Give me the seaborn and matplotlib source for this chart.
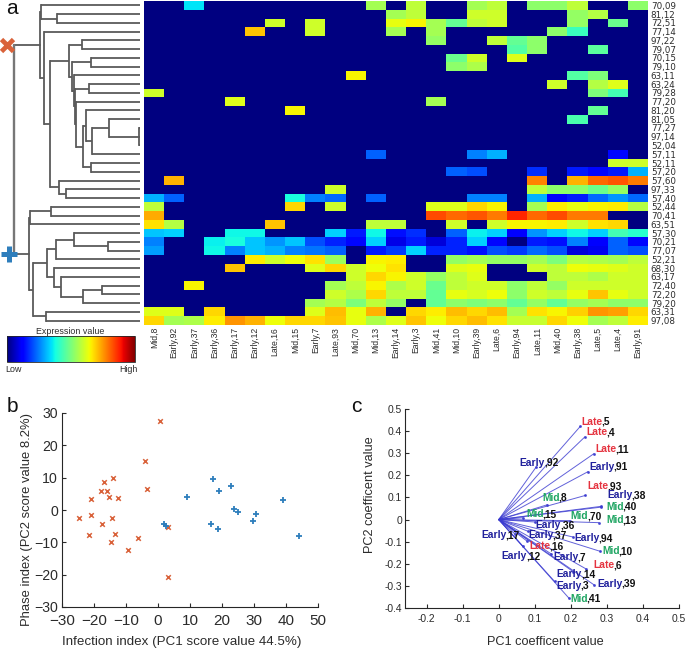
import matplotlib
matplotlib.use("Agg")
import matplotlib.pyplot as plt
import numpy as np
import seaborn as sb
from matplotlib.cm import ScalarMappable
from matplotlib.colors import Normalize

W, H = 685, 649
ORANGE = "#D9623A"
BLUE = "#2E7EBC"
TEXT = "#2b2b2b"

columns = ["Mid,8", "Early,92", "Early,37", "Early,36", "Early,17", "Early,12", "Late,16",
           "Mid,15", "Early,7", "Late,93", "Mid,70", "Mid,13", "Early,14", "Early,3", "Mid,41",
           "Mid,10", "Early,39", "Late,6", "Early,94", "Late,11", "Mid,40", "Early,38",
           "Late,5", "Late,4", "Early,91"]
rows = ["70,09", "81,12", "72,51", "77,14", "97,22", "79,07", "70,15", "79,10", "63,11", "63,24",
        "79,28", "77,20", "81,20", "81,05", "77,27", "97,14", "52,04", "57,11", "52,11", "57,20",
        "57,60", "97,33", "57,40", "52,44", "70,41", "63,51", "57,30", "70,21", "77,07", "52,21",
        "68,30", "63,17", "72,40", "72,20", "79,20", "63,31", "97,08"]

# expression in percent of the colour scale
expression = [
    [0, 0, 35, 0, 0, 0, 0, 0, 0, 0, 0, 55, 0, 58, 0, 0, 55, 58, 0, 52, 52, 58, 0, 0, 52],
    [0, 0, 0, 0, 0, 0, 0, 0, 0, 0, 0, 0, 55, 58, 0, 0, 60, 60, 0, 0, 0, 53, 57, 0, 0],
    [0, 0, 0, 0, 0, 0, 60, 0, 60, 0, 0, 0, 63, 65, 55, 47, 58, 60, 0, 0, 0, 53, 0, 48, 0],
    [0, 0, 0, 0, 0, 70, 0, 0, 60, 0, 0, 0, 55, 0, 55, 0, 0, 0, 0, 0, 52, 42, 0, 0, 0],
    [0, 0, 0, 0, 0, 0, 0, 0, 0, 0, 0, 0, 0, 0, 53, 0, 0, 58, 47, 52, 0, 0, 0, 0, 0],
    [0, 0, 0, 0, 0, 0, 0, 0, 0, 0, 0, 0, 0, 0, 0, 0, 0, 0, 45, 52, 0, 0, 46, 0, 0],
    [0, 0, 0, 0, 0, 0, 0, 0, 0, 0, 0, 0, 0, 0, 0, 48, 60, 0, 62, 0, 0, 0, 0, 0, 0],
    [0, 0, 0, 0, 0, 0, 0, 0, 0, 0, 0, 0, 0, 0, 0, 52, 56, 0, 0, 0, 0, 0, 0, 0, 0],
    [0, 0, 0, 0, 0, 0, 0, 0, 0, 0, 65, 0, 0, 0, 0, 0, 0, 0, 0, 0, 0, 45, 50, 0, 0],
    [0, 0, 0, 0, 0, 0, 0, 0, 0, 0, 0, 0, 0, 0, 0, 0, 0, 0, 0, 0, 60, 0, 57, 62, 0],
    [60, 0, 0, 0, 0, 0, 0, 0, 0, 0, 0, 0, 0, 0, 0, 0, 0, 0, 0, 0, 0, 0, 50, 43, 0],
    [0, 0, 0, 0, 62, 0, 0, 0, 0, 0, 0, 0, 0, 0, 55, 0, 0, 0, 0, 0, 0, 0, 0, 0, 0],
    [0, 0, 0, 0, 0, 0, 0, 65, 0, 0, 0, 0, 0, 0, 0, 0, 0, 0, 0, 0, 0, 0, 47, 0, 0],
    [0, 0, 0, 0, 0, 0, 0, 0, 0, 0, 0, 0, 0, 0, 0, 0, 0, 0, 0, 0, 0, 44, 0, 0, 0],
    [0, 0, 0, 0, 0, 0, 0, 0, 0, 0, 0, 0, 0, 0, 0, 0, 0, 0, 0, 0, 0, 0, 0, 0, 0],
    [0, 0, 0, 0, 0, 0, 0, 0, 0, 0, 0, 0, 0, 0, 0, 0, 0, 0, 0, 0, 0, 0, 0, 0, 0],
    [0, 0, 0, 0, 0, 0, 0, 0, 0, 0, 0, 0, 0, 0, 0, 0, 0, 0, 0, 0, 0, 0, 0, 0, 0],
    [0, 0, 0, 0, 0, 0, 0, 0, 0, 0, 0, 22, 0, 0, 0, 0, 25, 30, 0, 0, 0, 0, 0, 13, 0],
    [0, 0, 0, 0, 0, 0, 0, 0, 0, 0, 0, 0, 0, 0, 0, 0, 0, 0, 0, 0, 0, 0, 0, 60, 60],
    [0, 0, 0, 0, 0, 0, 0, 0, 0, 0, 0, 0, 0, 0, 0, 22, 20, 0, 0, 17, 0, 15, 13, 15, 30],
    [0, 72, 0, 0, 0, 0, 0, 0, 0, 0, 0, 0, 0, 0, 0, 0, 0, 0, 0, 77, 0, 72, 80, 82, 78],
    [0, 0, 0, 0, 0, 0, 0, 0, 0, 60, 0, 0, 0, 0, 0, 0, 0, 0, 0, 58, 52, 52, 48, 53, 0],
    [30, 22, 0, 0, 0, 0, 0, 38, 25, 23, 0, 22, 0, 0, 0, 0, 25, 25, 0, 30, 12, 15, 23, 27, 23],
    [58, 0, 0, 0, 0, 0, 0, 68, 0, 60, 0, 0, 0, 0, 62, 62, 68, 65, 0, 55, 66, 63, 65, 66, 57],
    [73, 0, 0, 0, 0, 0, 0, 0, 0, 0, 0, 0, 0, 0, 83, 80, 82, 78, 87, 80, 83, 78, 78, 0, 0],
    [67, 57, 0, 0, 0, 0, 70, 0, 0, 0, 0, 58, 58, 0, 0, 60, 0, 60, 65, 65, 66, 60, 67, 68, 0],
    [32, 33, 0, 0, 37, 37, 0, 0, 0, 33, 15, 37, 14, 17, 0, 22, 36, 33, 12, 27, 33, 37, 33, 43, 40],
    [25, 0, 0, 36, 38, 32, 27, 32, 20, 16, 13, 33, 9, 15, 8, 16, 33, 13, 0, 15, 14, 25, 11, 22, 13],
    [28, 0, 0, 37, 25, 32, 30, 25, 24, 22, 0, 15, 18, 33, 16, 16, 14, 20, 18, 23, 20, 8, 10, 22, 20],
    [0, 0, 0, 0, 0, 66, 60, 64, 67, 54, 0, 65, 66, 0, 0, 53, 55, 53, 53, 55, 50, 57, 56, 55, 58],
    [0, 0, 0, 0, 70, 0, 0, 0, 62, 68, 60, 64, 67, 0, 0, 62, 63, 0, 0, 60, 58, 64, 63, 62, 60],
    [0, 0, 0, 0, 0, 0, 0, 0, 0, 0, 60, 68, 65, 60, 53, 58, 62, 0, 0, 0, 58, 58, 56, 60, 60],
    [0, 0, 65, 0, 0, 0, 0, 0, 0, 55, 58, 65, 56, 60, 48, 58, 60, 60, 52, 58, 53, 60, 60, 60, 60],
    [0, 0, 0, 0, 0, 0, 0, 0, 0, 60, 56, 68, 58, 58, 47, 63, 61, 64, 52, 60, 58, 63, 70, 63, 60],
    [0, 0, 0, 0, 0, 0, 0, 0, 55, 57, 50, 58, 53, 0, 47, 52, 50, 52, 47, 53, 47, 53, 55, 52, 52],
    [62, 62, 0, 68, 0, 0, 0, 0, 62, 71, 63, 72, 0, 68, 66, 71, 68, 71, 55, 67, 65, 69, 75, 74, 68],
    [68, 55, 56, 66, 75, 72, 64, 68, 68, 70, 63, 56, 62, 70, 64, 68, 71, 67, 59, 59, 68, 64, 55, 58, 66],
]

# dendrogram: (branch position, children...), an int child is a row of the heatmap
tree_infected = (40, (41, 0, (57, 1, 2)),
                 (44, 3,
                  (50,
                   (69, (82, 4, 5),
                    (72, (91, 6, 7),
                     (74, 8,
                      (75, (89, 9, 10),
                       (76, 11,
                        (83, (86, 12, (92, (109, 13, (139, 14, 15, 16)), 17)),
                         (91, 18, 19))))))),
                   (59, 20, (66, 21, 22)))))
tree_control = (29, (30, (51, 23, 24), 25),
                (33,
                 (47, (56, (74, 26, (108, 27, 28)), 29),
                  (54, 30, (61, 31, (83, (102, 32, 33), 34)))),
                 (46, 35, 36)))

# panel b scores
early_x = [0.5, -4.2, -14, -17, -3.3, -17.9, -15.8, -15.2, -12.4, -20.8, -21, -24.7, -14.4, -17.6,
           -13.3, -21.5, -14.8, -6.1, -9.5, 3.1, 3.1]
early_y = [27.5, 15.1, 9.9, 8.6, 6.5, 5.8, 5.8, 3.9, 3.7, 3.3, -1.5, -2.5, -2.5, -4.4,
           -7.4, -7.8, -9.9, -8.7, -12.3, -5.2, -20.6]
late_x = [17.1, 22.8, 19.1, 9, 39.1, 23.8, 25, 30.6, 29.7, 16.5, 18.9, 2, 2.6, 44.2]
late_y = [9.7, 7.5, 6, 3.9, 3, 0.4, -0.6, -1.2, -3.3, -4.4, -6, -4.4, -4.8, -7.9]

# panel c loadings
load_names = ["Late,5", "Late,4", "Late,11", "Early,91", "Early,92", "Late,93", "Early,38", "Mid,8",
              "Mid,40", "Mid,15", "Mid,70", "Mid,13", "Early,36", "Early,17", "Early,37", "Early,94",
              "Mid,10", "Late,16", "Early,12", "Early,7", "Late,6", "Early,14", "Early,39", "Early,3",
              "Mid,41"]
load_x = [.226, .239, .264, .248, .104, .24, .283, .135, .285, .067, .197, .277, .1, .044, .081,
          .206, .282, .079, .067, .146, .243, .206, .264, .155, .195]
load_y = [.421, .374, .298, .217, .238, .109, .056, .067, .06, .008, -.005, -.014, -.011, -.064, -.053,
          -.079, -.144, -.098, -.121, -.156, -.224, -.235, -.295, -.28, -.356]
label_x = [.229, .244, .268, .251, .058, .245, .30, .12, .298, .076, .199, .298, .102, -.049, .081,
           .209, .287, .084, .008, .151, .262, .161, .273, .159, .198]
label_y = [.442, .395, .318, .238, .258, .15, .109, .098, .058, .023, .015, -.003, -.026, -.07, -.071,
           -.085, -.144, -.12, -.167, -.171, -.206, -.248, -.291, -.3, -.358]
group_colors = {"Early": "#20209C", "Late": "#E5333F", "Mid": "#1FA562"}

sb.set_style("ticks", {"xtick.direction": "in", "ytick.direction": "in"})
plt.rcParams["font.family"] = ["Liberation Sans", "DejaVu Sans"]


def px_axes(left, top, right, bottom):
    return fig.add_axes([left / W, 1 - bottom / H, (right - left) / W, (bottom - top) / H])


def draw_tree(ax, node):
    # returns the row position of the node
    if isinstance(node, int):
        return 140, node + 0.5
    x = node[0]
    ends = [draw_tree(ax, c) for c in node[1:]]
    ys = [e[1] for e in ends]
    for cx, cy in ends:
        ax.plot([x, cx], [cy, cy], color="#5a5a5a", lw=1.3, solid_capstyle="butt")
    ax.plot([x, x], [min(ys), max(ys)], color="#5a5a5a", lw=1.3, solid_capstyle="projecting")
    return x, (min(ys) + max(ys)) / 2


fig = plt.figure(figsize=(W / 100, H / 100), dpi=100, facecolor="white")

# panel a
ax_heat = px_axes(144, 1, 648, 325)
sb.heatmap(np.array(expression), ax=ax_heat, cmap="jet", vmin=0, vmax=100, cbar=False,
           xticklabels=columns, yticklabels=rows)
ax_heat.yaxis.tick_right()
ax_heat.tick_params(axis="both", length=0)
ax_heat.tick_params(axis="x", pad=1.5, labelsize=6.2, labelrotation=90, labelcolor=TEXT)
ax_heat.tick_params(axis="y", pad=2, labelsize=6.3, labelrotation=0, labelcolor=TEXT)
for label in ax_heat.get_xticklabels():
    label.set_verticalalignment("top")
# the row labels are wide and low in the original
for label in ax_heat.get_yticklabels():
    label.set_fontfamily("DejaVu Sans")

ax_tree = px_axes(0, 1, 144, 325)
ax_tree.set_xlim(0, 144)
ax_tree.set_ylim(len(rows), 0)
ax_tree.axis("off")
top_x, top_y = draw_tree(ax_tree, tree_infected)
bottom_x, bottom_y = draw_tree(ax_tree, tree_control)
for cx, cy in [(top_x, top_y), (bottom_x, bottom_y)]:
    ax_tree.plot([14, cx], [cy, cy], color="#5a5a5a", lw=1.3)
ax_tree.plot([14, 14], [top_y, bottom_y], color="#777777", lw=1.7)
ax_tree.plot([7], [top_y], marker="x", ms=8.5, mew=3.4, color=ORANGE, clip_on=False)
ax_tree.plot([9], [bottom_y], marker="+", ms=11.5, mew=3.6, color=BLUE, clip_on=False)

ax_cbar = px_axes(7, 336, 135, 362)
cbar = fig.colorbar(ScalarMappable(Normalize(0, 1), "jet"), cax=ax_cbar, orientation="horizontal")
cbar.set_ticks([])
cbar.outline.set_linewidth(0.6)
fig.text(70 / W, 1 - 331 / H, "Expression value", fontsize=6.4, ha="center", va="center", color=TEXT)
fig.text(5 / W, 1 - 370 / H, "Low", fontsize=6.4, ha="left", va="center", color=TEXT)
fig.text(138 / W, 1 - 370 / H, "High", fontsize=6.4, ha="right", va="center", color=TEXT)

# panel b
ax_b = px_axes(62, 413, 318, 607)
sb.scatterplot(x=early_x, y=early_y, ax=ax_b, marker="x", color=ORANGE, s=11, linewidth=1.1)
sb.scatterplot(x=late_x, y=late_y, ax=ax_b, marker="+", color=BLUE, s=20, linewidth=1.3)
ax_b.set_xlim(-30, 50)
ax_b.set_ylim(-30, 30)
ax_b.set_xticks(range(-30, 51, 10))
ax_b.set_yticks(range(-30, 31, 10))
ax_b.tick_params(length=3, width=0.8, colors=TEXT)
ax_b.tick_params(axis="x", pad=5, labelsize=11)
ax_b.tick_params(axis="y", pad=3, labelsize=10.2)
ax_b.set_xlabel("Infection index (PC1 score value 44.5%)", fontsize=9.6, color=TEXT)
ax_b.set_ylabel("Phase index (PC2 score value 8.2%)", fontsize=9.4, color=TEXT)
ax_b.xaxis.set_label_coords((182 - 62) / 256, (607 - 642) / 194)
ax_b.xaxis.label.set_verticalalignment("center")
ax_b.yaxis.set_label_coords((27 - 62) / 256, (607 - 520) / 194)
ax_b.yaxis.label.set_verticalalignment("center")
sb.despine(ax=ax_b)

# panel c
ax_c = px_axes(405, 409, 679, 608)
for x, y in zip(load_x, load_y):
    ax_c.plot([0, x], [0, y], color="#3a3ad0", lw=0.7, alpha=0.8, marker="o", ms=1.1, markevery=[1])
for name, lx, ly in zip(load_names, label_x, label_y):
    group, number = name.split(",")
    first = ax_c.text(lx, ly, group, fontsize=7.4, fontweight="bold", color=group_colors[group],
                      ha="left", va="center")
    ax_c.annotate("," + number, xy=(1, 0.5), xycoords=first, xytext=(-0.8, 0), textcoords="offset points",
                  fontsize=7.4, fontweight="bold", color="#111111", ha="left", va="center")
ax_c.set_xlim(-0.26, 0.5)
ax_c.set_ylim(-0.4, 0.5)
ax_c.set_xticks([-0.2, -0.1, 0, 0.1, 0.2, 0.3, 0.4, 0.5])
ax_c.set_xticklabels(["-0.2", "-0.1", "0", "0.1", "0.2", "0.3", "0.4", "0.5"])
ax_c.set_yticks([-0.4, -0.3, -0.2, -0.1, 0, 0.1, 0.2, 0.3, 0.4, 0.5])
ax_c.set_yticklabels(["-0.4", "-0.3", "-0.2", "-0.1", "0", "0.1", "0.2", "0.3", "0.4", "0.5"])
ax_c.tick_params(labelsize=7.4, length=3, width=0.8, colors=TEXT)
ax_c.tick_params(axis="x", pad=4)
ax_c.tick_params(axis="y", pad=2)
ax_c.set_xlabel("PC1 coefficent value", fontsize=9.2, color=TEXT)
ax_c.set_ylabel("PC2 coefficent value", fontsize=9.2, color=TEXT)
ax_c.xaxis.set_label_coords((545 - 405) / 274, (608 - 642) / 199)
ax_c.xaxis.label.set_verticalalignment("center")
ax_c.yaxis.set_label_coords((370 - 405) / 274, (608 - 495) / 199)
ax_c.yaxis.label.set_verticalalignment("center")
sb.despine(ax=ax_c)

fig.text(12 / W, 1 - 8 / H, "a", fontsize=15, ha="center", va="center", color="#111111")
fig.text(12 / W, 1 - 407 / H, "b", fontsize=15, ha="center", va="center", color="#111111")
fig.text(356 / W, 1 - 407 / H, "c", fontsize=15, ha="center", va="center", color="#111111")

fig.savefig("out.png", dpi=100)
